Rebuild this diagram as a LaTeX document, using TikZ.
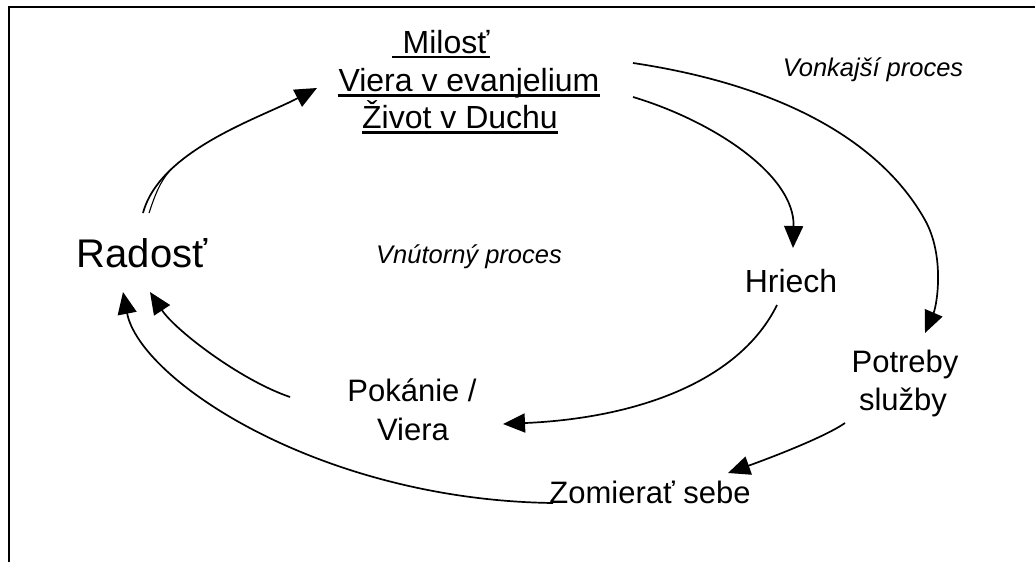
\documentclass[tikz,border=0pt]{standalone}
\usepackage{fontspec}
\setmainfont{Liberation Sans}
\usetikzlibrary{arrows.meta}
\begin{document}
\begin{tikzpicture}[x=1pt,y=-1pt,
  txt/.style={inner sep=0pt, anchor=base, font=\fontsize{31}{37}\selectfont},
  txtbig/.style={inner sep=0pt, anchor=base, font=\fontsize{32}{38}\selectfont},
  txthuge/.style={inner sep=0pt, anchor=base, font=\fontsize{40}{46}\selectfont},
  txtit/.style={inner sep=0pt, anchor=base, font=\fontsize{25.5}{30}\selectfont\itshape},
  uline/.style={line width=2.2pt},
  conn/.style={draw, line width=1.7pt, -{Triangle[length=22pt,width=19pt]}},
  strand/.style={draw, line width=1.1pt},
  frame/.style={line width=2.5pt}]
\useasboundingbox (0,0) rectangle (1035,562);
\fill[white] (0,0) rectangle (1035,562);
% frame (cropped)
\draw[frame] (9,562) -- (9,7) -- (1035,7);

% texts
\node[txtbig] (milost) at (446,53) {Milosť};
\node[txtbig] (viera) at (469,91) {Viera v evanjelium};
\node[txtbig] (zivot) at (460,128) {Život v Duchu};
\draw[uline] ([xshift=-10pt,yshift=-4pt]milost.base west) -- ([yshift=-4pt]milost.base east);
\draw[uline] ([yshift=-4.5pt]viera.base west) -- ([yshift=-4.5pt]viera.base east);
\draw[uline] ([yshift=-4.5pt]zivot.base west) -- ([yshift=-4.5pt]zivot.base east);

\node[txthuge] (radost) at (142,267) {Radosť};
\node[txtit] (vnutorny) at (469,263) {Vnútorný proces};
\node[txtit] (vonkajsi) at (873,76) {Vonkajší proces};
\node[txtbig] (hriech) at (791,292) {Hriech};
\node[txt] (pokanie) at (412,401.7) {Pokánie /};
\node[txt] (pokanie2) at (413,440) {Viera};
\node[txt] (potreby) at (905,372) {Potreby};
\node[txt] (potreby2) at (903,410) {služby};
\node[txt] (zomierat) at (650,503) {Zomierať sebe};

% connector end points
\coordinate (radOut) at (143,213);
\coordinate (radOutB) at (149,213);
\coordinate (milIn) at (317,88);
\coordinate (vieraOut) at (633,97);
\coordinate (vieraOutB) at (633,63);
\coordinate (hriechIn) at (793,248);
\coordinate (outerMid) at (925,220);
\coordinate (potIn) at (925,333);
\coordinate (hriechOut) at (777,305);
\coordinate (pokIn) at (503,424);
\coordinate (potOut) at (845,423);
\coordinate (zomIn) at (728,473);
\coordinate (pokOut) at (290,397);
\coordinate (radInA) at (150,292);
\coordinate (zomOut) at (553,503);
\coordinate (radInB) at (123,292);

% connectors
\draw[conn] (radOut) .. controls (160,150) and (260,118) .. (milIn);
\draw[strand] (radOutB) .. controls (155,195) and (160,182) .. (169.4,171.2);
\draw[conn] (vieraOut) .. controls (713,121) and (795,175) .. (hriechIn);
\draw[conn] (vieraOutB) .. controls (780,85) and (880,140) .. (outerMid)
            .. controls (945,256) and (937,305) .. (potIn);
\draw[conn] (hriechOut) .. controls (740,380) and (640,418) .. (pokIn);
\draw[conn] (potOut) .. controls (825,437) and (770,458) .. (zomIn);
\draw[conn] (pokOut) .. controls (240,380) and (175,330) .. (radInA);
\draw[conn] (zomOut) .. controls (320,500) and (140,380) .. (radInB);
\end{tikzpicture}
\end{document}
